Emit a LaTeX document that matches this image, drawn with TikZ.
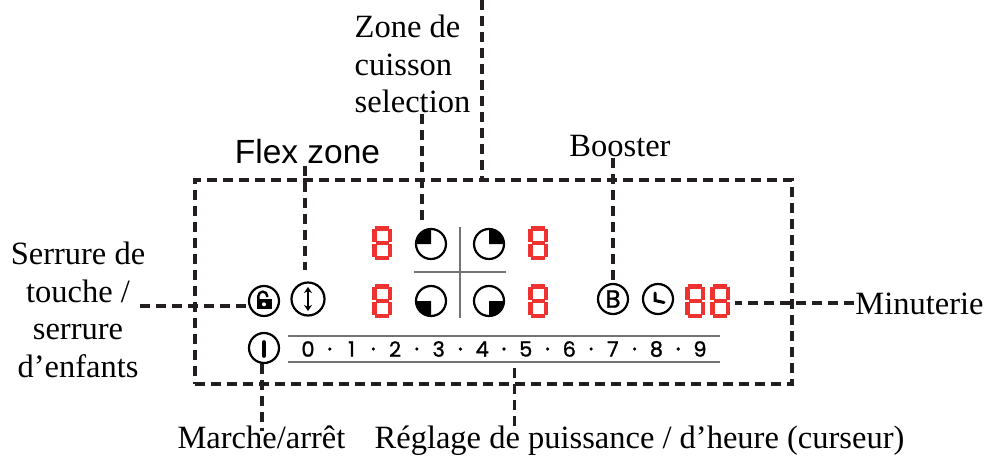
\documentclass[tikz,border=0pt]{standalone}
\usepackage{fontspec}
\usetikzlibrary{arrows.meta}
\setmainfont{Liberation Serif}
\newfontfamily\flexfont{Liberation Sans}
\newfontfamily\panelfont[FakeBold=1.2]{Poppins}
\definecolor{redd}{RGB}{238,50,48}
\definecolor{blackk}{RGB}{35,31,32}
\tikzset{
    leader/.style = {blackk, line width = 3.4pt, dash pattern = on 10pt off 6pt},
    labeltext/.style = {font = \fontsize{32.5}{37.5}\selectfont, inner sep = 1pt, align = center},
    icon/.style = {circle, draw = black, line width = 2.2pt, minimum size = 30pt, inner sep = 0pt},
    panelnum/.style = {font = \panelfont\fontsize{21}{21}\selectfont, inner sep = 0pt},
    grayline/.style = {gray!90!black, line width = 1.4pt},
    segdigit/.pic = {
        \foreach \xa/\ya/\xb/\yb in {3/2.2/17/2.2, 3.5/17/16.5/17, 3/31.8/17/31.8, 2.2/3/2.2/15.7, 17.8/3/17.8/15.7, 2.2/18.3/2.2/31, 17.8/18.3/17.8/31}
            {\draw[redd, line width = 4.6pt] (\xa,\ya) -- (\xb,\yb);}
    }
}

\begin{document}
\begin{tikzpicture}[x=1pt,y=-1pt]
                    \useasboundingbox (0,0) rectangle (993,461);
                    \node[draw = blackk, line width = 3.4pt, dash pattern = on 10pt off 6pt, minimum width = 597pt, minimum height = 204pt, inner sep = 0pt] (panel) at (493.5,282) {};
                    \coordinate (topend) at (482,0);
                    \node[labeltext, align = left] (zonelabel) at (412.5,64) {Zone de\\cuisson\\selection};
                    \node[labeltext, font = \flexfont\fontsize{33.5}{33.5}\selectfont] (flexlabel) at (307.5,152) {Flex zone};
                    \node[labeltext] (boosterlabel) at (620,146) {Booster};
                    \node[labeltext] (serrurelabel) at (78,310) {Serrure de\\touche /\\serrure\\d’enfants};
                    \node[labeltext] (minuterielabel) at (919.5,304) {Minuterie};
                    \node[labeltext] (marchelabel) at (261.5,437) {Marche/arrêt};
                    \node[labeltext] (reglagelabel) at (639.5,441) {Réglage de puissance / d’heure (curseur)};
                    \node[icon] (lockicon) at (264,301) {};
                    \node[icon, minimum size = 33pt] (flexicon) at (308,299) {};
                    \node[icon] (pietl) at (431,244) {};
                    \node[icon] (pietr) at (489,244) {};
                    \node[icon] (piebl) at (431,301) {};
                    \node[icon] (piebr) at (489,301) {};
                    \node[icon, font = \panelfont\fontsize{25}{25}\selectfont] (boosticon) at (613,299) {B};
                    \node[icon] (clockicon) at (658,299) {};
                    \node[icon] (powericon) at (264,348) {};
                    \foreach \piename/\startang in {pietl/180, pietr/270, piebl/90, piebr/0}
                        {\fill (\piename.center) -- ++(\startang:15) arc[start angle = \startang, delta angle = 90, radius = 15] -- cycle;}
                    \draw[grayline] (460,227) -- (460,318);
                    \draw[grayline] (414,272) -- (506,272);
                    \draw[grayline] (288,336) -- (720,336);
                    \draw[grayline] (288,362) -- (720,362);
                    \foreach \x/\y in {372/226, 372/284, 528/226, 528/284, 685/284, 710/284}
                        {\pic at (\x,\y) {segdigit};}
                    \foreach \n in {0,...,9}
                        {\node[panelnum] (num\n) at ({308+43.55*\n},349) {\n};}
                    \foreach \n in {0,...,8}
                        {\fill ({329.8+43.55*\n},349) circle (1.8);}
                    \fill[black] (256.7,299.3) rectangle (271.7,309);
                    \fill[white] (264,304.3) circle (2);
                    \draw[line width = 2.4pt] (258.4,300) -- (258.4,296) arc[start angle = 180, end angle = 360, radius = 4.4] -- (267.2,297);
                    \draw[line width = 2.4pt, {Stealth[length=6pt,width=8pt]}-{Stealth[length=6pt,width=8pt]}] (308,287) -- (308,311);
                    \draw[line width = 3pt, line cap = round] (655,293) -- (655,300.5) -- (664,302.5);
                    \draw[line width = 3.6pt, line cap = round] (264,342) -- (264,356);
                    \draw[leader] (zonelabel.south -| 422,0) -- ([xshift=-9pt,yshift=3pt]pietl.north);
                    \draw[leader] (topend) -- (topend |- panel.north);
                    \draw[leader] (flexlabel.south -| 305,0) -- (305,270);
                    \draw[leader] (boosterlabel.south -| boosticon.north) -- (boosticon.north);
                    \draw[leader] (140,306) -- (lockicon.west |- 0,306);
                    \draw[leader] (minuterielabel.west |- 0,303) -- (735,303);
                    \draw[leader] ([xshift=-2pt]powericon.south) -- (262,431);
                    \draw[leader] ([xshift=-11pt]num5 |- 0,368) -- ([xshift=-11pt]num5 |- 0,432);
                \end{tikzpicture}
\end{document}
